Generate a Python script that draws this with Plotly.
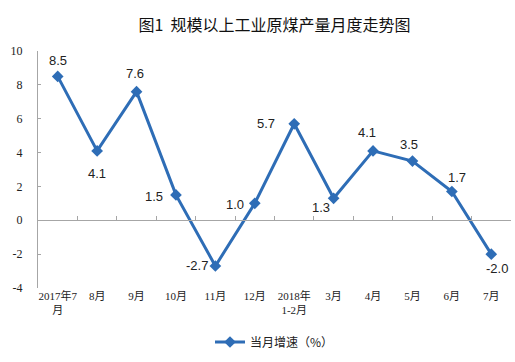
import plotly.graph_objects as go

categories = ["2017年7<br>月", "8月", "9月", "10月", "11月", "12月", "2018年<br>1-2月",
              "3月", "4月", "5月", "6月", "7月"]
values = [8.5, 4.1, 7.6, 1.5, -2.7, 1.0, 5.7, 1.3, 4.1, 3.5, 1.7, -2.0]
labels = ["8.5", "4.1", "7.6", "1.5", "-2.7", "1.0", "5.7", "1.3", "4.1", "3.5", "1.7", "-2.0"]
series_name = "当月增速（%）"
title = "图1  规模以上工业原煤产量月度走势图"
y_ticks = [-4, -2, 0, 2, 4, 6, 8, 10]
y_tick_text = ["-4", "-2", "0", "2", "4", "6", "8", "10"]

# label offsets (pixels) relative to each point — styling only
label_dx = [0, 0, -2, -22, -18, -20, -28, -13, -6, -3, 5, 6]
label_dy = [-16, 23, -18, 2, 0, 1, 0, 9, -18, -17, -14, 14]

blue = "#2E6DB6"
gray = "#A6A6A6"

W, H = 515, 362

fig = go.Figure()
fig.add_trace(go.Scatter(
    x=categories, y=values, name=series_name,
    mode="lines+markers",
    line=dict(color=blue, width=3),
    marker=dict(symbol="diamond", size=9, color=blue),
    cliponaxis=False,
))
# invisible helper trace for bottom category labels
fig.add_trace(go.Scatter(
    x=categories, y=values, xaxis="x2", mode="lines",
    line=dict(width=0, color="rgba(0,0,0,0)"), showlegend=False, hoverinfo="skip",
))

for c, v, t, dx, dy in zip(categories, values, labels, label_dx, label_dy):
    fig.add_annotation(x=c, y=v, text=t, showarrow=False, xshift=dx, yshift=-dy,
                       font=dict(family="Liberation Sans, Arial", size=13, color="#222"))

fig.update_layout(
    width=W, height=H,
    margin=dict(l=38, r=4, t=51, b=74, autoexpand=False),
    paper_bgcolor="white", plot_bgcolor="white",
    title=dict(text=title, x=0.5, xref="paper", y=1 - 25 / H, yanchor="middle",
               font=dict(family="Noto Sans CJK SC", size=16, color="#111")),
    xaxis=dict(
        type="category", range=[-0.5, 11.5], anchor="free", position=4 / 14,
        showline=True, linecolor=gray, linewidth=1,
        ticks="inside", tickson="boundaries", ticklen=4, tickcolor=gray,
        showticklabels=False, showgrid=False, zeroline=False,
    ),
    xaxis2=dict(
        type="category", range=[-0.5, 11.5], overlaying="x", anchor="y", side="bottom",
        showline=False, ticks="", showgrid=False, zeroline=False,
        tickfont=dict(family="Liberation Serif, Noto Sans CJK SC", size=11, color="#222"),
        tickangle=0,
    ),
    yaxis=dict(
        range=[-4, 10], tickmode="array", tickvals=y_ticks, ticktext=y_tick_text, domain=[0, 1],
        showline=True, linecolor=gray, linewidth=1,
        ticks="inside", ticklen=3, tickcolor=gray,
        showgrid=False, zeroline=False,
        tickfont=dict(family="Liberation Serif, Times New Roman", size=12, color="#222"),
        ticklabelstandoff=12,
    ),
    showlegend=True,
    legend=dict(orientation="h", x=0.5, xanchor="center", y=-(342 - 288) / 237, yanchor="middle",
                font=dict(family="Noto Sans CJK SC", size=12, color="#222")),
)

fig.write_html("out.html", config={"displayModeBar": False},
               post_script="document.body.style.margin='0';document.body.style.overflow='hidden';")
